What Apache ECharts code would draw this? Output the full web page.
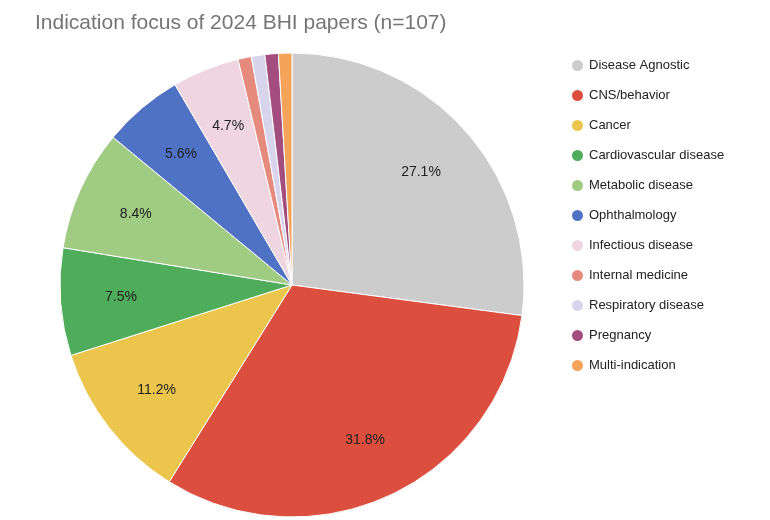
<!DOCTYPE html>
<html>
<head>
<meta charset="utf-8">
<script src="https://cdn.jsdelivr.net/npm/echarts@6/dist/echarts.min.js"></script>
<style>html,body{margin:0;background:#fff}.main{width:770px;height:520px}</style>
</head>
<body>
<div class="main"></div>
<script>
let categories = ['Disease Agnostic', 'CNS/behavior', 'Cancer', 'Cardiovascular disease', 'Metabolic disease',
  'Ophthalmology', 'Infectious disease', 'Internal medicine', 'Respiratory disease', 'Pregnancy', 'Multi-indication'];
let counts = [29, 34, 12, 8, 9, 6, 5, 1, 1, 1, 1];
let colors = ['#cccccc', '#dc4f3f', '#ecc54c', '#4eac5b', '#9fcb83', '#4f72c4', '#efd5e0', '#e58a7d', '#d8d4ec', '#a24d7e', '#f5a25a'];

let myChart = echarts.init(document.querySelector('.main'));
let total = counts.reduce((a, b) => a + b, 0);
let pieData = categories.map((c, i) => ({ name: c, value: counts[i] }));

let option = {
  backgroundColor: '#fff',
  title: {
    text: 'Indication focus of 2024 BHI papers (n=107)',
    left: 30, top: 8,
    textStyle: { fontFamily: 'Liberation Sans', fontWeight: 'normal', fontSize: 21, color: '#757575' }
  },
  color: colors,
  legend: {
    orient: 'vertical', left: 565, top: 53,
    icon: 'circle', itemWidth: 13, itemHeight: 13, itemGap: 15,
    textStyle: { fontFamily: 'Liberation Sans', fontSize: 13, color: '#222' },
    data: categories
  },
  series: [{
    type: 'pie',
    center: [292, 285], radius: 232,
    startAngle: 90, clockwise: true,
    itemStyle: { borderColor: '#fff', borderWidth: 1 },
    label: { show: false },
    labelLine: { show: false },
    emphasis: { disabled: true },
    data: pieData
  }, {
    type: 'pie',
    center: [292, 285], radius: [105, 232],
    startAngle: 90, clockwise: true, silent: true,
    itemStyle: { color: 'rgba(0,0,0,0)' },
    label: {
      position: 'inside', fontFamily: 'Liberation Sans', fontSize: 14, color: '#222',
      formatter: p => p.value >= 5 ? (p.value / total * 100).toFixed(1) + '%' : ''
    },
    labelLine: { show: false },
    emphasis: { disabled: true },
    data: pieData
  }]
};
myChart.setOption(option);
</script>
</body>
</html>
